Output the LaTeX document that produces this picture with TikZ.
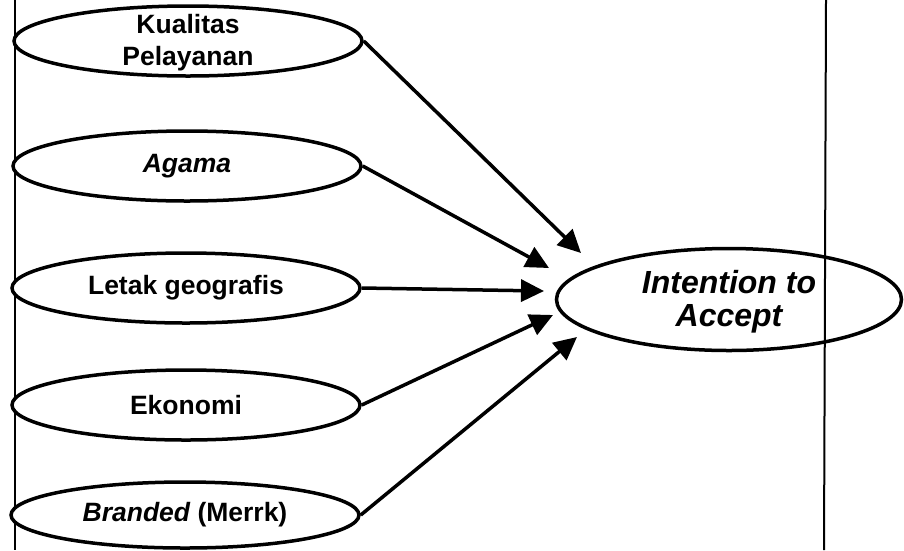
\documentclass[tikz,border=0pt]{standalone}
\usepackage{fontspec}
\setmainfont{Liberation Sans}
\usetikzlibrary{shapes.geometric,arrows.meta}
\tikzset{
  ell/.style={ellipse, draw=black, line width=3.5pt, fill=white, inner sep=0pt,
    minimum width=348pt, minimum height=70pt},
  bigell/.style={ellipse, draw=black, line width=3.5pt, inner sep=0pt,
    minimum width=345pt, minimum height=102pt},
  lbl/.style={inner sep=0pt, align=center, font=\fontsize{26.5}{32}\selectfont\bfseries},
  biglbl/.style={inner sep=0pt, align=center, font=\fontsize{32}{33}\selectfont\bfseries\itshape},
  conn/.style={line width=3.5pt, -{Triangle[length=23pt,width=22pt]}},
  frameline/.style={line width=1.6pt}
}
\begin{document}
\begin{tikzpicture}[x=1pt,y=-1pt]
\useasboundingbox (0,0) rectangle (904,550);
\coordinate (lt) at (15,0); \coordinate (lb) at (15,550);
\coordinate (rt) at (826,0); \coordinate (rb) at (824,550);
\draw[frameline] (lt) -- (lb);
\draw[frameline, line width=2pt] (rt) -- (rb);
\node[ell, label={[lbl, yshift=-2pt]center:Kualitas\\Pelayanan}] (k) at (188,41) {};
\node[ell, label={[lbl]center:\itshape Agama}] (a) at (187,166) {};
\node[ell, label={[lbl]center:Letak geografis}] (l) at (186,288) {};
\node[ell, label={[lbl]center:Ekonomi}] (e) at (186,405) {};
\node[ell, minimum height=66pt, label={[lbl]center:{\itshape Branded} (Merrk)}] (b) at (185,515) {};
\node[bigell, label={[biglbl, yshift=-2pt]center:Intention to\\Accept}] (i) at (729,299.5) {};
\coordinate (t1) at (581,253);
\coordinate (t2) at (549,268);
\coordinate (t3) at (544,291);
\coordinate (t4) at (553,315);
\coordinate (t5) at (577,337);
\draw[conn] (k.east) -- (t1);
\draw[conn] (a.east) -- (t2);
\draw[conn] (l.east) -- (t3);
\draw[conn] (e.east) -- (t4);
\draw[conn] (b.east) -- (t5);
\end{tikzpicture}
\end{document}
